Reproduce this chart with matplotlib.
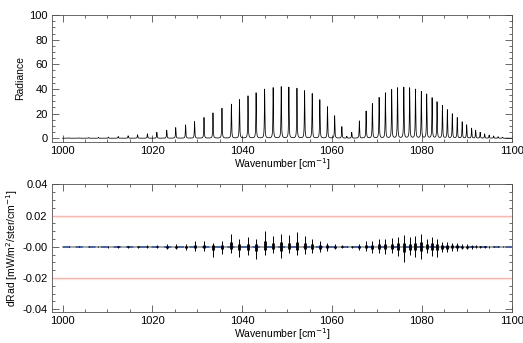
import numpy as np
import matplotlib
matplotlib.use("Agg")
import matplotlib.pyplot as plt
from matplotlib.ticker import MultipleLocator

plt.rcParams['font.family'] = ['Liberation Sans', 'DejaVu Sans']
plt.rcParams['font.size'] = 8

# line centres [cm-1] and peak radiance
peak_wn = [1001.5, 1003.6, 1005.8, 1008.0, 1010.2, 1012.4, 1014.6, 1016.7, 1018.9,
           1021.0, 1023.2, 1025.2, 1027.4, 1029.4, 1031.5, 1033.5, 1035.5, 1037.6,
           1039.4, 1041.3, 1043.1, 1045.0, 1046.9, 1048.7, 1050.4, 1052.2, 1053.9,
           1055.6, 1057.3, 1059.0, 1060.6, 1062.2, 1063.3, 1064.4, 1066.1, 1067.6,
           1069.0, 1070.5, 1071.9, 1073.3, 1074.6, 1076.0, 1077.3, 1078.6, 1079.9,
           1081.1, 1082.3, 1083.4, 1084.6, 1085.7, 1086.8, 1087.9, 1089.0, 1090.0,
           1091.1, 1092.0, 1093.0, 1094.0, 1095.0, 1096.0, 1097.0, 1098.0]
peak_rad = [0.3, 0.4, 0.5, 0.7, 0.9, 1.4, 2.0, 2.8, 3.6,
            4.8, 6.5, 8.6, 10.8, 13.5, 16.8, 20.5, 24.3, 27.6,
            31.3, 34.3, 36.8, 39.8, 41.0, 41.8, 41.4, 40.5, 38.5,
            36.2, 31.2, 25.5, 18.2, 9.4, 1.5, 4.8, 14.0, 22.0,
            28.0, 33.0, 36.7, 39.4, 40.8, 41.3, 40.8, 39.7, 37.8,
            35.7, 32.7, 29.4, 26.4, 23.0, 19.7, 16.7, 13.2, 10.8,
            8.1, 6.5, 4.8, 3.5, 2.5, 1.8, 1.2, 0.8]

# residual extent at each line [mW/m2/ster/cm-1]
res_hi = [0.0003, 0.0003, 0.0004, 0.0004, 0.0005, 0.0006, 0.0007, 0.0008, 0.0009,
          0.0010, 0.0017, 0.0017, 0.0020, 0.0038, 0.0038, 0.0026, 0.0038, 0.0081,
          0.0047, 0.0060, 0.0053, 0.0100, 0.0068, 0.0085, 0.0075, 0.0096, 0.0068,
          0.0053, 0.0038, 0.0025, 0.0017, 0.0009, 0.0004, 0.0007, 0.0020, 0.0034,
          0.0040, 0.0047, 0.0050, 0.0055, 0.0064, 0.0075, 0.0060, 0.0068, 0.0081,
          0.0053, 0.0064, 0.0053, 0.0032, 0.0032, 0.0025, 0.0025, 0.0017, 0.0017,
          0.0013, 0.0010, 0.0008, 0.0007, 0.0005, 0.0004, 0.0003, 0.0003]
res_lo = [-0.0003, -0.0003, -0.0004, -0.0004, -0.0005, -0.0006, -0.0007, -0.0008, -0.0009,
          -0.0010, -0.0017, -0.0017, -0.0020, -0.0026, -0.0026, -0.0068, -0.0047, -0.0043,
          -0.0064, -0.0053, -0.0081, -0.0053, -0.0038, -0.0075, -0.0043, -0.0053, -0.0047,
          -0.0043, -0.0032, -0.0025, -0.0017, -0.0009, -0.0004, -0.0007, -0.0020, -0.0030,
          -0.0038, -0.0043, -0.0047, -0.0043, -0.0060, -0.0100, -0.0053, -0.0068, -0.0081,
          -0.0043, -0.0060, -0.0064, -0.0032, -0.0032, -0.0025, -0.0025, -0.0017, -0.0017,
          -0.0013, -0.0010, -0.0008, -0.0007, -0.0005, -0.0004, -0.0003, -0.0003]

res_ticks = [-0.04, -0.02, 0.0, 0.02, 0.04]
res_ticklabels = ['-0.04', '-0.02', '-0.00', '0.02', '0.04']
limit = 0.02

# spectrum built from the line list (lorentzian lines)
hwhm = 0.06
wn = np.arange(1000.0, 1100.0, 0.01)
rad = np.zeros_like(wn)
for c, h in zip(peak_wn, peak_rad):
    rad += h * hwhm**2 / ((wn - c)**2 + hwhm**2)

fig = plt.figure(figsize=(5.23, 3.43), dpi=100)
ax1 = fig.add_axes([0.099, 0.587, 0.880, 0.369])
ax2 = fig.add_axes([0.099, 0.091, 0.880, 0.374])

ax1.plot(wn, rad, color='black', lw=0.55)
ax1.set_xlim(997.6, 1100.1)
ax1.set_ylim(-2.8, 100)
ax1.set_ylabel('Radiance', fontsize=7.5, labelpad=3)

ax2.axhline(limit, color='#ffb4ac', lw=1)
ax2.axhline(-limit, color='#ffb4ac', lw=1)
ax2.plot([1000, 1100], [0, 0], color='#a0a0a0', lw=1.3)
ax2.plot([1000, 1100], [0, 0], color='#3a5fb5', lw=1.3, ls=(0, (4, 3)))
ax2.vlines(peak_wn, res_lo, res_hi, color='black', lw=0.7)
ax2.vlines(peak_wn, np.array(res_lo) * 0.35, np.array(res_hi) * 0.35,
           color='black', lw=2.0)
ax2.set_xlim(997.6, 1100.1)
ax2.set_ylim(-0.0417, 0.0406)
ax2.set_yticks(res_ticks)
ax2.set_yticklabels(res_ticklabels)
ax2.set_ylabel('dRad [mW/m$^2$/ster/cm$^{-1}$]', fontsize=7.5, labelpad=2)

for ax in (ax1, ax2):
    ax.xaxis.set_major_locator(MultipleLocator(20))
    ax.xaxis.set_minor_locator(MultipleLocator(5))
    ax.set_xlabel('Wavenumber [cm$^{-1}$]', fontsize=7.5, labelpad=0)
    ax.tick_params(which='both', direction='in', top=True, right=True,
                   color='#505050', width=0.6)
    ax.tick_params(which='major', length=5, pad=3)
    ax.tick_params(which='minor', length=2.5)
    for s in ax.spines.values():
        s.set_color('#505050')
        s.set_linewidth(0.6)
ax1.yaxis.set_major_locator(MultipleLocator(20))
ax1.yaxis.set_minor_locator(MultipleLocator(5))
ax2.yaxis.set_minor_locator(MultipleLocator(0.005))

fig.savefig('out.png', dpi=100)
